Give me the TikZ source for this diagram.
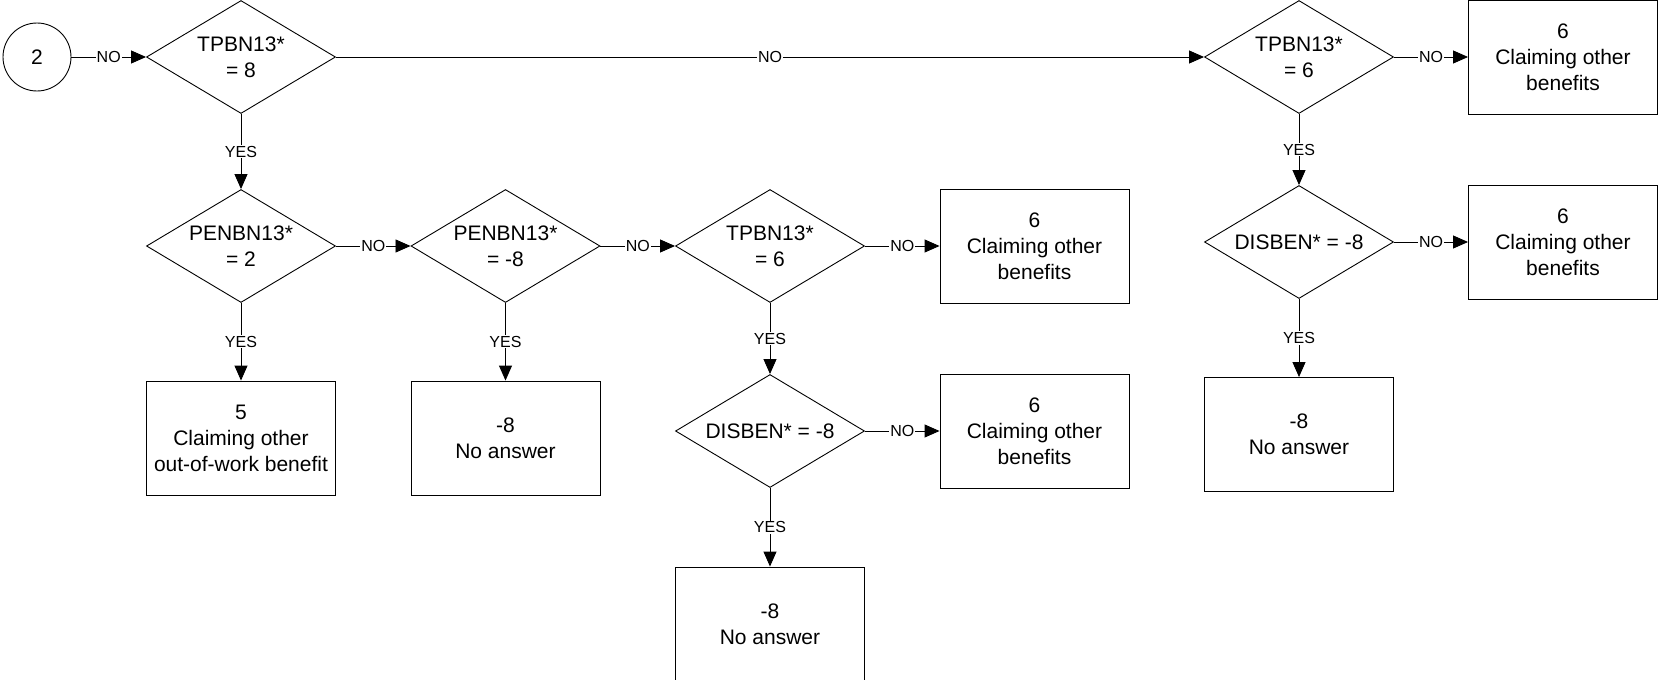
\documentclass[tikz,border=0pt]{standalone}
\usepackage{fontspec}
\setmainfont{Liberation Sans}
\usetikzlibrary{shapes.geometric,arrows.meta}
\begin{document}
\begin{tikzpicture}[x=1pt,y=-1pt,
  line width=0.9pt,
  txt/.style={font=\fontsize{21}{26}\selectfont, align=center},
  decision/.style={diamond, draw, minimum width=189pt, minimum height=113pt, inner sep=0pt,
    label={[txt]center:{#1}}},
  outcome/.style={rectangle, draw, txt, minimum width=189pt, minimum height=114pt, inner sep=0pt},
  startnode/.style={circle, draw, txt, minimum size=68pt, inner sep=0pt},
  conn/.style={-{Triangle[length=15pt,width=13pt]}},
  lbl/.style={midway, fill=white, inner sep=1pt, font=\fontsize{16}{18}\selectfont}
]
\useasboundingbox (0,0) rectangle (1658,680);

\node[startnode] (s) at (37,57) {2};
\node[decision={TPBN13*\\= 8}] (d1) at (241,57) {};
\node[decision={TPBN13*\\= 6}] (d2) at (1299,57) {};
\node[outcome] (b1) at (1563,57) {6\\Claiming other\\benefits};

\node[decision={PENBN13*\\= 2}] (d3) at (241,246) {};
\node[decision={PENBN13*\\= -8}] (d4) at (505.5,246) {};
\node[decision={TPBN13*\\= 6}] (d5) at (770,246) {};
\node[outcome] (b2) at (1034.5,246) {6\\Claiming other\\benefits};
\node[decision={DISBEN* = -8}] (d6) at (1299,242) {};
\node[outcome] (b3) at (1563,242) {6\\Claiming other\\benefits};

\node[outcome] (b4) at (241,438) {5\\Claiming other\\out-of-work benefit};
\node[outcome] (b5) at (505.5,438) {-8\\No answer};
\node[decision={DISBEN* = -8}] (d7) at (770,431) {};
\node[outcome] (b6) at (1034.5,431) {6\\Claiming other\\benefits};
\node[outcome] (b7) at (1299,434.5) {-8\\No answer};
\node[outcome] (b8) at (770,624) {-8\\No answer};

\draw[conn] (s) -- node[lbl]{NO} (d1);
\draw[conn] (d1) -- node[lbl]{NO} (d2);
\draw[conn] (d2) -- node[lbl]{NO} (b1);
\draw[conn] (d1) -- node[lbl]{YES} (d3);
\draw[conn] (d2) -- node[lbl]{YES} (d6);
\draw[conn] (d3) -- node[lbl]{NO} (d4);
\draw[conn] (d4) -- node[lbl]{NO} (d5);
\draw[conn] (d5) -- node[lbl]{NO} (b2);
\draw[conn] (d6) -- node[lbl]{NO} (b3);
\draw[conn] (d3) -- node[lbl]{YES} (b4);
\draw[conn] (d4) -- node[lbl]{YES} (b5);
\draw[conn] (d5) -- node[lbl]{YES} (d7);
\draw[conn] (d7) -- node[lbl]{NO} (b6);
\draw[conn] (d6) -- node[lbl]{YES} (b7);
\draw[conn] (d7) -- node[lbl]{YES} (b8);
\end{tikzpicture}
\end{document}
